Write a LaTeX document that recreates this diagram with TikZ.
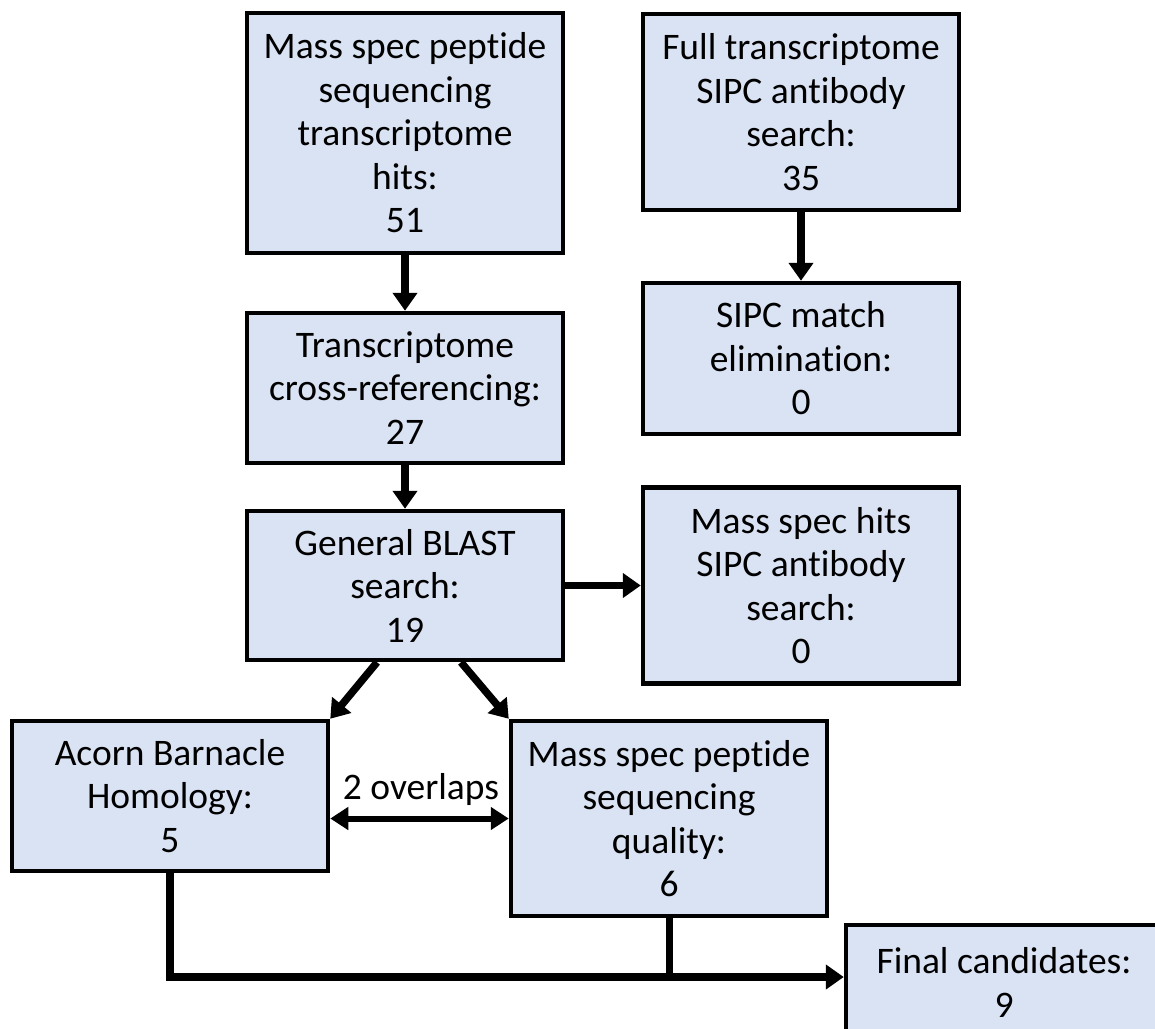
\documentclass[tikz,border=0pt]{standalone}
\usepackage{fontspec}
\setmainfont[Ligatures={NoCommon}]{Carlito}
\usetikzlibrary{arrows.meta,calc}
\definecolor{boxfill}{HTML}{DAE3F3}
\begin{document}
\begin{tikzpicture}[x=1pt,y=-1pt,
  box/.style={draw=black, fill=boxfill, line width=4.5pt, minimum width=316pt, inner sep=0pt, align=center, font=\fontsize{37.5}{43.5}\selectfont},
  conn/.style={line width=7.5pt, -{Triangle[length=18pt,width=24pt]}},
  plain/.style={line width=7pt},
  dbl/.style={line width=6pt, {Triangle[length=18pt,width=22pt]}-{Triangle[length=18pt,width=22pt]}},
  lbl/.style={inner sep=0pt, font=\fontsize{37.5}{43.5}\selectfont},
]
\useasboundingbox (0,0) rectangle (1155,1028);
\node[box, minimum height=240pt] (b1) at (405,133) {Mass spec peptide\\sequencing\\transcriptome\\hits:\\51};
\node[box, minimum height=196pt] (b2) at (801,112) {Full transcriptome\\SIPC antibody\\search:\\35};
\node[box, minimum height=151pt] (b3) at (801,358.5) {SIPC match\\elimination:\\0};
\node[box, minimum height=150pt] (b4) at (405,388) {Transcriptome\\cross-referencing:\\27};
\node[box, minimum height=149pt] (b5) at (405,585.5) {General BLAST\\search:\\19};
\node[box, minimum height=196pt] (b6) at (801,585.5) {Mass spec hits\\SIPC antibody\\search:\\0};
\node[box, minimum height=150pt] (b7) at (170,796) {Acorn Barnacle\\Homology:\\5};
\node[box, minimum height=195pt] (b8) at (669,818.5) {Mass spec peptide\\sequencing\\quality:\\6};
\node[box, minimum height=140pt] (b9) at (1004,995) {Final candidates:\\9\\[-18pt]\mbox{}};
\node[lbl] (ov) at (421,789) {2 overlaps};
\draw[conn] (b1.south) -- (b4.north);
\draw[conn] (b2.south) -- (b3.north);
\draw[conn] (b4.south) -- (b5.north);
\draw[conn] (b5.east) -- (b6.west);
\draw[conn] ([xshift=-28pt]b5.south) -- (b7.north east);
\draw[conn] ([xshift=56pt]b5.south) -- (b8.north west);
\draw[dbl] (b7.east |- b8.west) -- (b8.west);
\draw[plain] (b8.south) -- (b8.south |- 0,977);
\draw[conn] (b7.south) |- (b9.west |- 0,977);
\end{tikzpicture}
\end{document}
